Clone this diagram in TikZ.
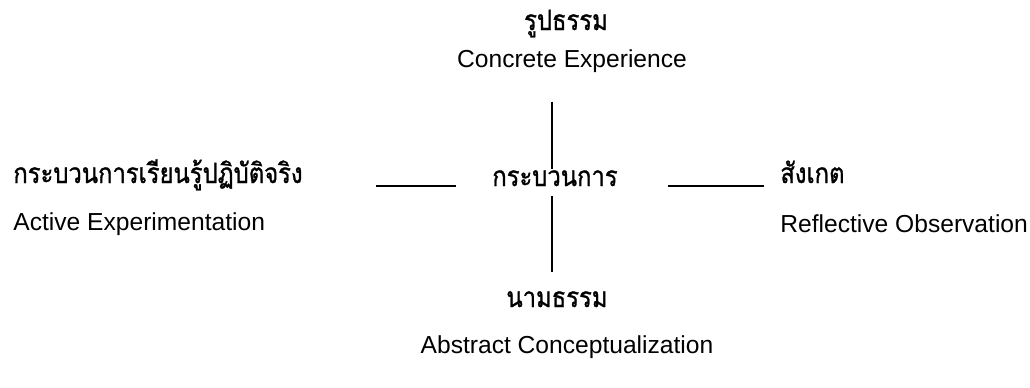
\documentclass[tikz,border=0pt]{standalone}
\usepackage{fontspec}
\setmainfont{Liberation Sans}
\newfontfamily\thaifont[Script=Thai,FakeStretch=0.85,FakeBold=1]{Loma}
\usetikzlibrary{calc}

\begin{document}
\begin{tikzpicture}[
  x=0.5pt,y=-0.5pt,
  font=\fontsize{12.3}{14}\selectfont,
  thai/.style={inner sep=0pt,font=\thaifont\fontsize{14}{16}\selectfont},
  eng/.style={inner sep=0pt},
  link/.style={draw=black,line width=0.75pt}
]
\useasboundingbox (0,0) rectangle (1030,387);

% centre and the four poles
\node[thai,anchor=base] (hub) at (555,186) {กระบวนการ};
\node[thai,anchor=base] (rupa) at (566,30) {รูปธรรม};
\node[eng,anchor=base] (concrete) at (572,67) {Concrete Experience};
\node[thai,anchor=base] (nama) at (557,307) {นามธรรม};
\node[eng,anchor=base] (abstract) at (567,353) {Abstract Conceptualization};
\node[thai,anchor=base west] (learn) at (13,183) {กระบวนการเรียนรู้ปฏิบัติจริง};
\node[eng,anchor=base west] (active) at (13,230) {Active Experimentation};
\node[thai,anchor=base west] (observe) at (780,183) {สังเกต};
\node[eng,anchor=base west] (reflect) at (780,232) {Reflective Observation};

% axes
\draw[link,shorten <=20.5pt,shorten >=4.5pt] ($(concrete -| hub)+(-3,0)$) -- ($(hub.center)+(-3,0)$);
\draw[link,shorten <=9pt,shorten >=9.5pt] ($(hub.center)+(-3,0)$) -- ($(nama.north -| hub)+(-3,0)$);
\draw[link,shorten <=36.5pt,shorten >=18pt] (learn.base east |- hub.base) -- (hub.base west);
\draw[link,shorten <=25pt,shorten >=8pt] (hub.base east) -- (observe.base west |- hub.base);
\end{tikzpicture}
\end{document}
